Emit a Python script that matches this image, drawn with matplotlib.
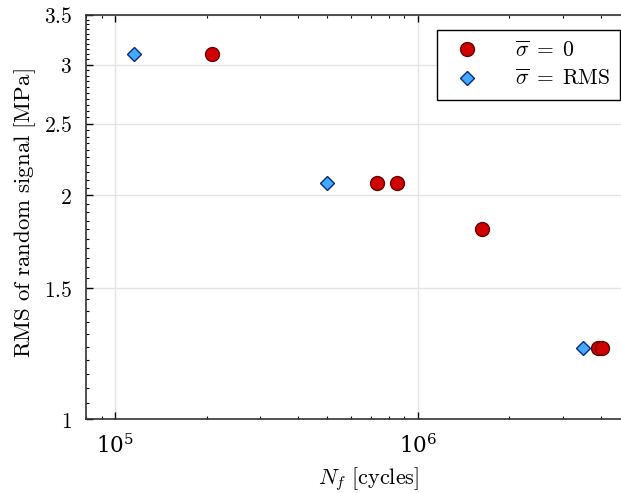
import numpy as np
import matplotlib
matplotlib.use("Agg")
import matplotlib.pyplot as plt
from matplotlib.ticker import FixedLocator, FuncFormatter, LogLocator, NullFormatter

plt.rcParams['mathtext.fontset'] = 'cm'
plt.rcParams['font.family'] = 'serif'
plt.rcParams['font.serif'] = ['DejaVu Serif']

# sigma_mean = 0
n_zero = [2.08e5, 7.3e5, 8.5e5, 1.62e6, 3.92e6, 4.03e6]
rms_zero = [3.1, 2.08, 2.08, 1.80, 1.245, 1.245]

# sigma_mean = RMS
n_rms = [1.155e5, 5.0e5, 3.49e6]
rms_rms = [3.1, 2.08, 1.245]

y_ticks = [1, 1.5, 2, 2.5, 3, 3.5]

fig = plt.figure(figsize=(6.21, 4.93), dpi=100)
# right edge of the box falls just outside the picture, like the reference
ax = fig.add_axes([0.1385, 0.150, 0.876, 0.8196])

ax.plot(n_zero, rms_zero, 'o', ms=10, mfc='#d00000', mec='#6a0000', mew=1.0,
        ls='none', label=r'$\overline{\sigma}\; =\; 0$', zorder=3)
ax.plot(n_rms, rms_rms, 'D', ms=7.5, mfc='#44aaff', mec='#0a2a80', mew=1.0,
        ls='none', label=r'$\overline{\sigma}\; =\; \mathrm{RMS}$', zorder=3)

ax.set_xscale('log')
ax.set_yscale('log')
ax.set_xlim(8e4, 5e6)
ax.set_ylim(1, 3.5)

ax.yaxis.set_major_locator(FixedLocator(y_ticks))
ax.yaxis.set_major_formatter(FuncFormatter(lambda v, p: r'$\mathrm{%g}$' % v))
ax.yaxis.set_minor_locator(FixedLocator(np.arange(1.0, 3.51, 0.05)))
ax.yaxis.set_minor_formatter(NullFormatter())
ax.xaxis.set_minor_locator(LogLocator(base=10, subs=np.arange(2, 10)))
ax.xaxis.set_minor_formatter(NullFormatter())

ax.tick_params(which='both', direction='in', top=True, right=True, labelsize=15.5)
ax.tick_params(which='major', length=5, width=1)
ax.tick_params(which='minor', length=2.5, width=0.8)
ax.tick_params(axis='x', which='major', pad=11)
ax.tick_params(axis='y', which='major', pad=10)

for s in ax.spines.values():
    s.set_linewidth(1.2)
    s.set_color('#333333')

ax.grid(True, which='major', color='#e4e4e4', lw=1.0)
ax.set_axisbelow(True)

ax.set_xlabel(r'$N_f\ \mathrm{[cycles]}$', fontsize=16)
ax.set_ylabel(r'$\mathrm{RMS\ of\ random\ signal\ [MPa]}$', fontsize=16.5)
ax.xaxis.set_label_coords(0.52, -0.115)
ax.yaxis.set_label_coords(-0.088, 0.51)

leg = ax.legend(loc='upper right', fontsize=15.5, fancybox=False, framealpha=1,
                edgecolor='black', borderpad=0.45, labelspacing=0.3,
                handlelength=1.9, handletextpad=1.3,
                borderaxespad=0, bbox_to_anchor=(0.982, 0.963))
leg.get_frame().set_linewidth(1.0)

fig.savefig('out.png', dpi=100)
